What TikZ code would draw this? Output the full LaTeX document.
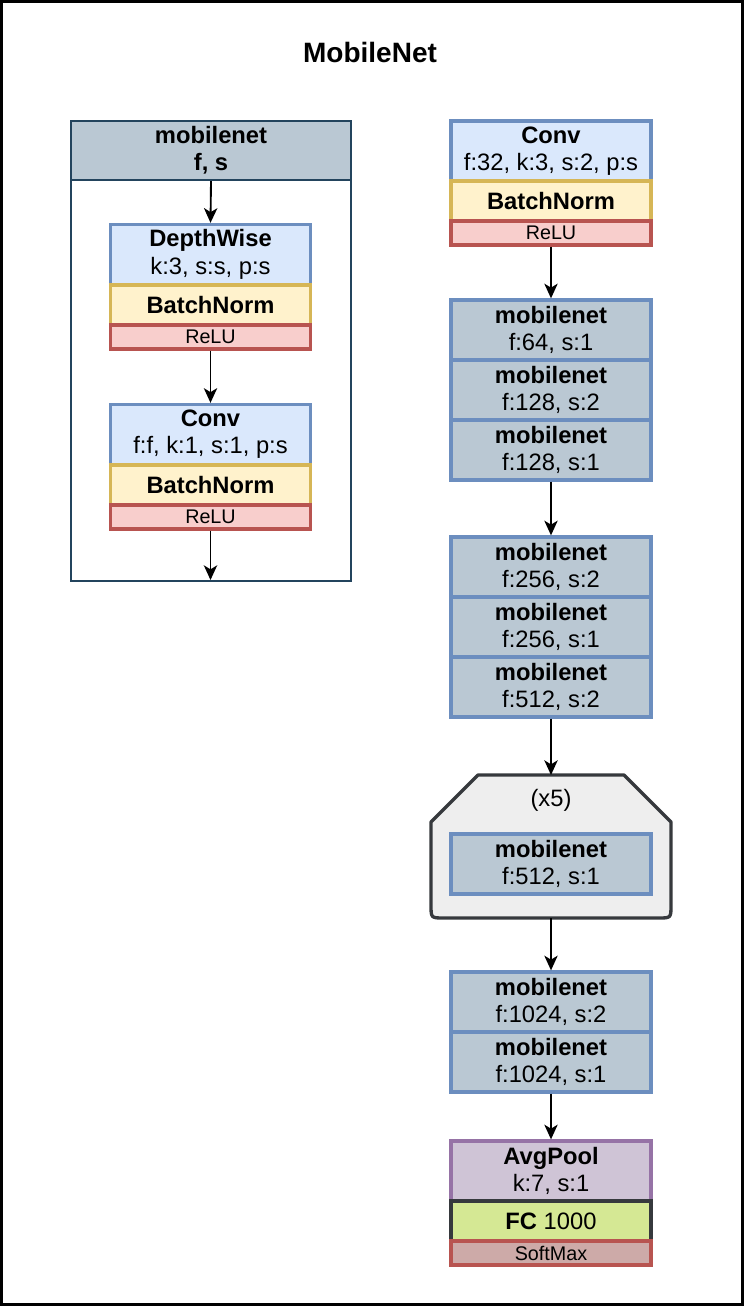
\documentclass[tikz,border=0pt]{standalone}
\usepackage{fontspec}
\setmainfont{Liberation Sans}
\usetikzlibrary{arrows.meta}
\definecolor{cblue}{HTML}{DAE8FC}\definecolor{sblue}{HTML}{6C8EBF}
\definecolor{cyel}{HTML}{FFF2CC}\definecolor{syel}{HTML}{D6B656}
\definecolor{cred}{HTML}{F8CECC}\definecolor{sred}{HTML}{B85450}
\definecolor{cgray}{HTML}{BAC8D3}\definecolor{sdark}{HTML}{23445D}
\definecolor{cpur}{HTML}{CFC4D6}\definecolor{spur}{HTML}{9673A6}
\definecolor{cgreen}{HTML}{D5E894}\definecolor{sgrey}{HTML}{36393D}
\definecolor{csoft}{HTML}{CDAAA8}\definecolor{crep}{HTML}{EEEEEE}
\tikzset{
  blk/.style={draw, line width=2.5pt, minimum width=150pt, inner sep=0pt, align=center, font=\fontsize{17.8}{20.5}\selectfont},
  tall/.style={minimum height=45pt},
  mid/.style={minimum height=30pt, font=\fontsize{17.8}{20.5}\selectfont\bfseries},
  low/.style={minimum height=18pt, font=\fontsize{14.8}{16}\selectfont},
  bluebox/.style={blk, tall, fill=cblue, draw=sblue},
  bnbox/.style={blk, mid, fill=cyel, draw=syel},
  relubox/.style={blk, low, fill=cred, draw=sred},
  mnbox/.style={blk, tall, fill=cgray, draw=sblue},
  conn/.style={line width=1.4pt, -{Stealth[length=11pt, width=10pt, inset=3pt]}},
}
\newcommand{\mn}[1]{\textbf{mobilenet}\\#1}
\begin{document}
\begin{tikzpicture}[x=0.75pt, y=-0.75pt]
\useasboundingbox (0,0) rectangle (744,1306);
\draw[line width=2.25pt, fill=white] (1.5,1.5) rectangle (742.5,1304.5);
\node[font=\fontsize{21}{24}\selectfont\bfseries] (title) at (370,52) {MobileNet};
% left container
\node[draw=sdark, line width=1.6pt, minimum width=210pt, minimum height=345pt, inner sep=0pt] (frame) at (211,351) {};
\node[draw=sdark, fill=cgray, line width=1.6pt, minimum width=210pt, minimum height=44.25pt, inner sep=0pt, align=center, font=\fontsize{17.8}{20.5}\selectfont\bfseries] (hdr) at (211,150.5) {mobilenet\\f, s};
\node[bluebox] (dw) at (210.5,254.5) {\textbf{DepthWise}\\k:3, s:s, p:s};
\node[bnbox] (bn1) at (210.5,305) {BatchNorm};
\node[relubox] (relu1) at (210.5,337) {ReLU};
\node[bluebox] (lconv) at (210.5,434.5) {\textbf{Conv}\\f:f, k:1, s:1, p:s};
\node[bnbox] (bn2) at (210.5,485) {BatchNorm};
\node[relubox] (relu2) at (210.5,517) {ReLU};
\coordinate (lout) at (210.5,580);
\draw[conn] (hdr.south) -- (dw.north);
\draw[conn] (relu1.south) -- (lconv.north);
\draw[conn] (relu2.south) -- (lout);
% right column
\node[bluebox] (conv) at (551,151) {\textbf{Conv}\\f:32, k:3, s:2, p:s};
\node[bnbox] (bn) at (551,201) {BatchNorm};
\node[relubox] (relu) at (551,233) {ReLU};
\node[mnbox] (m1) at (551,330) {\mn{f:64, s:1}};
\node[mnbox] (m2) at (551,390) {\mn{f:128, s:2}};
\node[mnbox] (m3) at (551,450) {\mn{f:128, s:1}};
\node[mnbox] (m4) at (551,567) {\mn{f:256, s:2}};
\node[mnbox] (m5) at (551,627) {\mn{f:256, s:1}};
\node[mnbox] (m6) at (551,687) {\mn{f:512, s:2}};
% repeat block
\draw[line width=2.5pt, draw=sgrey, fill=crep, line join=round]
  (431,822) -- (478,775) -- (624,775) -- (671,822) -- (671,905)
  .. controls (671,918) .. (658,918) -- (444,918)
  .. controls (431,918) .. (431,905) -- cycle;
\coordinate (reptop) at (551,775);
\coordinate (repbot) at (551,918);
\node[font=\fontsize{17.8}{20.5}\selectfont] (x5) at (551,800) {(x5)};
\node[mnbox] (m7) at (551,864) {\mn{f:512, s:1}};
\node[mnbox] (m8) at (551,1002) {\mn{f:1024, s:2}};
\node[mnbox] (m9) at (551,1062) {\mn{f:1024, s:1}};
\node[blk, tall, fill=cpur, draw=spur] (avg) at (551,1171) {\textbf{AvgPool}\\k:7, s:1};
\node[blk, minimum height=30pt, fill=cgreen, draw=sgrey] (fc) at (551,1221) {\textbf{FC} 1000};
\node[blk, low, fill=csoft, draw=sred] (soft) at (551,1253) {SoftMax};
\draw[conn] (relu.south) -- (m1.north);
\draw[conn] (m3.south) -- (m4.north);
\draw[conn] (m6.south) -- (reptop);
\draw[conn] (repbot) -- (m8.north);
\draw[conn] (m9.south) -- (avg.north);
\end{tikzpicture}
\end{document}
